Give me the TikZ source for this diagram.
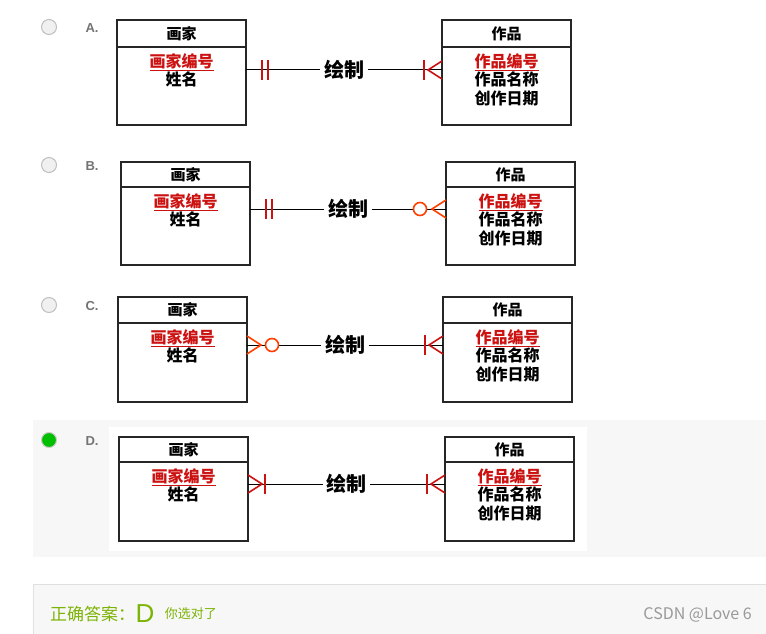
\documentclass[tikz,border=0pt]{standalone}
\usepackage{fontspec}
\newfontfamily\cjk{Noto Sans CJK SC}
\setsansfont{Liberation Sans}
\definecolor{rd}{HTML}{CC1111}
\definecolor{gr}{HTML}{7CB305}
\begin{document}
\begin{tikzpicture}[x=1pt,y=-1pt,
  ent/.style={draw=black!85,line width=1.1pt},
  hd/.style={font=\cjk\bfseries\fontsize{15}{15}\selectfont},
  attr/.style={font=\cjk\bfseries\fontsize{16}{18.5}\selectfont,align=center,anchor=north,inner sep=0pt},
  mk/.style={draw=rd,line width=1.6pt},
  ln/.style={draw=black,line width=1pt},
  lbl/.style={font=\cjk\bfseries\fontsize{20}{20}\selectfont},
  radio/.style={circle,minimum size=15pt,inner sep=0pt,draw=black!25,fill=black!6,line width=1pt},
  let/.style={font=\sffamily\bfseries\fontsize{13}{13}\selectfont,text=black!55}]
\useasboundingbox (0,0) rectangle (766,634);
\fill[black!3] (33,420) rectangle (766,557);
\fill[white] (109,427) rectangle (587,551);
\draw[black!12,fill=black!3] (33,584) rectangle (767,635);
\newcommand\erd[8]{%
  \draw[ent] (#1,#3) rectangle (#1+129,#4); \draw[ent] (#1,#5) -- (#1+129,#5);
  \draw[ent] (#2,#3) rectangle (#2+129,#4); \draw[ent] (#2,#5) -- (#2+129,#5);
  \node[hd] (h1#7) at (#1+64.5,{(#3+#5)/2}) {画家};
  \node[hd] (h2#7) at (#2+64.5,{(#3+#5)/2}) {作品};
  \node[attr] (a1#7) at (#1+64.5,#5+6) {\textcolor{rd}{\underline{画家编号}}\\姓名};
  \node[attr] (a2#7) at (#2+64.5,#5+6) {\textcolor{rd}{\underline{作品编号}}\\作品名称\\创作日期};
  \node[lbl] (r#7) at ({(#1+129+#2)/2},#6) {绘制};
  \coordinate (L#7) at (#1+129,#6); \coordinate (R#7) at (#2,#6);
  \draw[ln] (L#7) -- (r#7.west |- L#7); \draw[ln] (r#7.east |- R#7) -- (R#7);
  #8}
\newcommand\lbars[2]{\draw[mk] (#1+16,#2-10) -- (#1+16,#2+10); \draw[mk] (#1+22,#2-10) -- (#1+22,#2+10);}
\newcommand\lcrowbar[2]{\draw[mk] (#1,#2-9) -- (#1+14,#2) -- (#1,#2+9); \draw[mk] (#1+17,#2-10) -- (#1+17,#2+10);}
\newcommand\lcrowcirc[2]{\draw[mk,draw=orange!50!red] (#1,#2-9) -- (#1+14,#2) -- (#1,#2+9); \draw[mk,draw=orange!50!red,fill=white] (#1+25,#2) circle (6.5);}
\newcommand\rcrowbar[2]{\draw[mk] (#1,#2-9) -- (#1-14,#2) -- (#1,#2+9); \draw[mk] (#1-18,#2-10) -- (#1-18,#2+10);}
\newcommand\rcrowcirc[2]{\draw[mk,draw=orange!50!red] (#1,#2-9) -- (#1-14,#2) -- (#1,#2+9); \draw[mk,draw=orange!50!red,fill=white] (#1-26,#2) circle (6.5);}
\node[radio] (ra) at (49,27) {}; \node[let] (la) at (92,28) {A.};
\erd{117}{442}{20}{125}{47}{70}{a}{\lbars{246}{70}\rcrowbar{442}{70}}
\node[radio] (rb) at (49,165) {}; \node[let] (lb) at (92,166) {B.};
\erd{121}{446}{162}{265}{187}{209}{b}{\lbars{250}{209}\rcrowcirc{446}{209}}
\node[radio] (rc) at (49,305) {}; \node[let] (lc) at (92,306) {C.};
\erd{118}{443}{297}{402}{323}{345}{c}{\lcrowcirc{247}{345}\rcrowbar{443}{345}}
\node[radio,fill=green!75!black,draw=black!20] (rdd) at (49,440) {}; \node[let] (ld) at (92,441) {D.};
\erd{119}{445}{437}{541}{462}{484}{d}{\lcrowbar{248}{484}\rcrowbar{445}{484}}
\node[anchor=west,text=gr,font=\cjk\fontsize{17}{17}\selectfont,inner sep=0] (ans) at (50,614) {正确答案：};
\node[anchor=west,text=gr,font=\sffamily\fontsize{26}{26}\selectfont,inner sep=0] (ansd) at (ans.east) {D};
\node[anchor=west,text=gr,font=\cjk\fontsize{13}{13}\selectfont,inner sep=0] (ok) at ([xshift=10pt]ansd.east) {你选对了};
\node[anchor=east,text=black!40,font=\cjk\fontsize{16}{16}\selectfont,inner sep=0] (csdn) at (752,615) {CSDN @Love 6};
\end{tikzpicture}
\end{document}
